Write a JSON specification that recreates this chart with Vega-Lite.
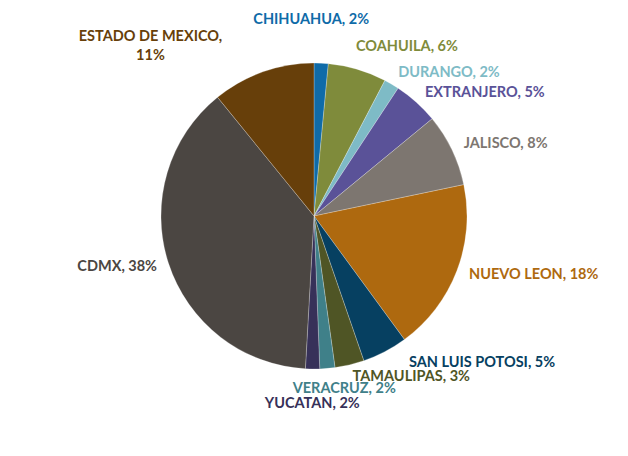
{
  "$schema": "https://vega.github.io/schema/vega-lite/v6.json",
  "width": 628,
  "height": 432,
  "autosize": {"type": "none"},
  "padding": {"left": 0, "right": 0, "top": 0, "bottom": 24},
  "background": "white",
  "config": {"view": {"stroke": null}, "text": {"font": "Lato", "fontSize": 14.5, "fontWeight": "bold"}},
  "data": {
    "values": [
      {"i": 1, "state": "CHIHUAHUA", "value": 1.5, "pct": 2},
      {"i": 2, "state": "COAHUILA", "value": 6.2, "pct": 6},
      {"i": 3, "state": "DURANGO", "value": 1.6, "pct": 2},
      {"i": 4, "state": "EXTRANJERO", "value": 4.8, "pct": 5},
      {"i": 5, "state": "JALISCO", "value": 7.7, "pct": 8},
      {"i": 6, "state": "NUEVO LEON", "value": 18.3, "pct": 18},
      {"i": 7, "state": "SAN LUIS POTOSI", "value": 4.8, "pct": 5},
      {"i": 8, "state": "TAMAULIPAS", "value": 3.1, "pct": 3},
      {"i": 9, "state": "VERACRUZ", "value": 1.6, "pct": 2},
      {"i": 10, "state": "YUCATAN", "value": 1.5, "pct": 2},
      {"i": 11, "state": "CDMX", "value": 38.4, "pct": 38},
      {"i": 12, "state": "ESTADO DE MEXICO", "value": 10.9, "pct": 11}
    ]
  },
  "transform": [
    {"window": [{"op": "sum", "field": "value", "as": "cum"}], "sort": [{"field": "i"}], "frame": [null, 0]},
    {"calculate": "datum.cum - datum.value / 2", "as": "mid"},
    {"calculate": "datum.state + ', ' + datum.pct + '%'", "as": "label"}
  ],
  "encoding": {
    "color": {
      "field": "state",
      "type": "nominal",
      "legend": null,
      "scale": {
        "domain": ["CHIHUAHUA", "COAHUILA", "DURANGO", "EXTRANJERO", "JALISCO", "NUEVO LEON", "SAN LUIS POTOSI", "TAMAULIPAS", "VERACRUZ", "YUCATAN", "CDMX", "ESTADO DE MEXICO"],
        "range": ["#0F6BA8", "#7F8B3B", "#7EBBC6", "#5A5298", "#7D7670", "#AE690F", "#064061", "#4F5525", "#3F8089", "#373159", "#4B4642", "#673F0A"]
      }
    }
  },
  "layer": [
    {
      "mark": {"type": "arc", "outerRadius": 153, "stroke": "#ffffff", "strokeOpacity": 0.35, "strokeWidth": 0.7},
      "encoding": {
        "theta": {"field": "value", "type": "quantitative", "stack": true},
        "order": {"field": "i", "type": "quantitative"}
      }
    },
    {
      "transform": [{"filter": "indexof(['DURANGO','EXTRANJERO','JALISCO','NUEVO LEON','TAMAULIPAS'], datum.state) >= 0"}],
      "mark": {"type": "text", "radius": 166, "align": "left", "baseline": "middle"},
      "encoding": {
        "theta": {"field": "mid", "type": "quantitative", "stack": null},
        "text": {"field": "label"}
      }
    },
    {
      "transform": [{"filter": "datum.state == 'COAHUILA'"}],
      "mark": {"type": "text", "radius": 176, "align": "left", "baseline": "middle", "dx": -8},
      "encoding": {
        "theta": {"field": "mid", "type": "quantitative", "stack": null},
        "text": {"field": "label"}
      }
    },
    {
      "transform": [{"filter": "datum.state == 'SAN LUIS POTOSI'"}],
      "mark": {"type": "text", "radius": 166, "align": "left", "baseline": "middle", "dx": 18},
      "encoding": {
        "theta": {"field": "mid", "type": "quantitative", "stack": null},
        "text": {"field": "label"}
      }
    },
    {
      "transform": [{"filter": "datum.state == 'CDMX'"}],
      "mark": {"type": "text", "radius": 165, "align": "right", "baseline": "middle"},
      "encoding": {
        "theta": {"field": "mid", "type": "quantitative", "stack": null},
        "text": {"field": "label"}
      }
    },
    {
      "transform": [{"filter": "datum.state == 'CHIHUAHUA'"}],
      "mark": {"type": "text", "radius": 196, "align": "center", "baseline": "middle", "dx": -12},
      "encoding": {
        "theta": {"field": "mid", "type": "quantitative", "stack": null},
        "text": {"field": "label"}
      }
    },
    {
      "transform": [{"filter": "datum.state == 'YUCATAN'"}],
      "mark": {"type": "text", "radius": 188, "align": "center", "baseline": "middle"},
      "encoding": {
        "theta": {"field": "mid", "type": "quantitative", "stack": null},
        "text": {"field": "label"}
      }
    },
    {
      "transform": [{"filter": "datum.state == 'VERACRUZ'"}],
      "mark": {"type": "text", "radius": 174, "align": "center", "baseline": "middle", "dx": 15},
      "encoding": {
        "theta": {"field": "mid", "type": "quantitative", "stack": null},
        "text": {"field": "label"}
      }
    },
    {
      "transform": [
        {"filter": "datum.state == 'ESTADO DE MEXICO'"},
        {"calculate": "datum.state + ',\\n' + datum.pct + '%'", "as": "label2"}
      ],
      "mark": {"type": "text", "radius": 190, "align": "center", "baseline": "middle", "dx": -100, "lineBreak": "\n", "lineHeight": 19},
      "encoding": {
        "theta": {"field": "mid", "type": "quantitative", "stack": null},
        "text": {"field": "label2"}
      }
    }
  ]
}
